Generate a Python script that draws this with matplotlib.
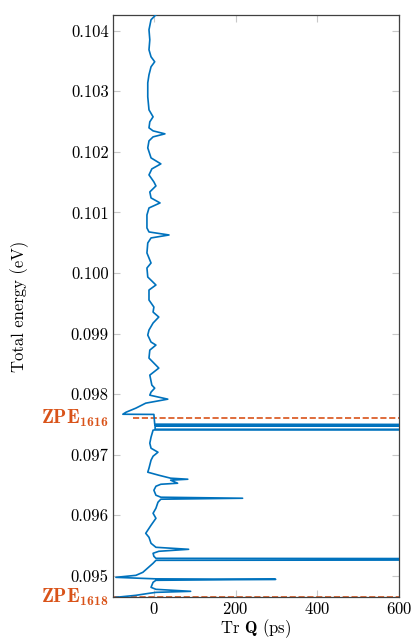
import numpy as np
import matplotlib
matplotlib.use('Agg')
import matplotlib.pyplot as plt
from matplotlib.ticker import FormatStrFormatter

plt.rcParams['font.family'] = 'cmr10'
plt.rcParams['mathtext.fontset'] = 'custom'
plt.rcParams['mathtext.rm'] = 'cmr10'
plt.rcParams['mathtext.it'] = 'cmmi10'
plt.rcParams['mathtext.bf'] = 'cmb10'
plt.rcParams['axes.unicode_minus'] = False
plt.rcParams['axes.formatter.use_mathtext'] = True

# energy (eV) and Tr Q (ps)
energy = [0.104264, 0.104182, 0.104017, 0.103851, 0.103686, 0.103570, 0.103488, 0.103405,
          0.103273, 0.103140, 0.102909, 0.102694, 0.102579, 0.102496, 0.102397, 0.102347,
          0.102298, 0.102248, 0.102182, 0.102066, 0.101901, 0.101802, 0.101719, 0.101620,
          0.101504, 0.101438, 0.101339, 0.101240, 0.101157, 0.101074, 0.100959, 0.100744,
          0.100678, 0.100628, 0.100579, 0.100496, 0.100331, 0.100165, 0.100083, 0.099934,
          0.099802, 0.099719, 0.099554, 0.099438, 0.099355, 0.099273, 0.099174, 0.099058,
          0.098975, 0.098860, 0.098810, 0.098727, 0.098595, 0.098430, 0.098314, 0.098149,
          0.098099, 0.098033, 0.097983, 0.097917, 0.097851, 0.097769, 0.097702, 0.097668,
          0.097665, 0.097504, 0.097488, 0.097484, 0.097480, 0.097475, 0.097420, 0.097415,
          0.097410, 0.097405, 0.097289, 0.097190, 0.097107, 0.097041, 0.096975, 0.096909,
          0.096777, 0.096711, 0.096661, 0.096612, 0.096595, 0.096579, 0.096529, 0.096512,
          0.096479, 0.096413, 0.096331, 0.096298, 0.096281, 0.096265, 0.096215, 0.096116,
          0.096033, 0.095950, 0.095835, 0.095702, 0.095636, 0.095537, 0.095471, 0.095438,
          0.095405, 0.095372, 0.095322, 0.095289, 0.095273, 0.095256, 0.095207, 0.095058,
          0.095008, 0.094975, 0.094959, 0.094950, 0.094942, 0.094926, 0.094893, 0.094810,
          0.094777, 0.094744, 0.094727, 0.094711, 0.094678, 0.094645]
trq = [5, -7, -12, -10, -12, -7, 2, -7,
       -12, -15, -15, -12, -2, -10, -12, -2,
       27, -2, -12, -15, -7, 17, -5, -12,
       0, 5, -10, -7, 15, -12, -17, -17,
       -12, 37, -7, -15, -17, -7, -17, -15,
       5, -12, -12, 0, -2, 12, -2, -12,
       -15, -7, 5, -10, -12, 12, -10, -5,
       2, -7, -10, 34, -20, -44, -68, -76,
       0, 2, 2500, 3, 2500, 3, 3, 2500,
       3, -2, -7, -10, -7, 10, -2, -7,
       -12, -15, 12, 41, 83, 41, 58, 17,
       5, 0, 5, 17, 217, 17, 10, 5,
       -2, 5, -7, -20, -12, -7, 5, 85,
       12, -2, 0, 5, 2500, 5, -2, -27,
       -44, -93, -32, 5, 298, 5, -2, -7,
       5, 90, 5, -12, -44, -93]

zpe1616 = 0.0976
zpe1618 = 0.09465
yticks = [0.095, 0.096, 0.097, 0.098, 0.099, 0.100, 0.101, 0.102, 0.103, 0.104]
xticks = [0, 200, 400, 600]

fig = plt.figure(figsize=(4.11, 6.39), dpi=100)
ax = fig.add_axes([0.275, 0.0657, 0.696, 0.9108])

ax.plot(trq, energy, color='#0072BD', linewidth=1.2, zorder=3)
ax.hlines(zpe1616, -50, 600, colors='#D95319', linestyles='--', linewidth=1.2, zorder=2)
ax.hlines(zpe1618, -100, 600, colors='#D95319', linestyles='--', linewidth=1.2, zorder=2)

ax.set_xlim(-100, 600)
ax.set_ylim(zpe1618, 0.10426)
ax.set_xticks(xticks)
ax.set_yticks(yticks)
ax.yaxis.set_major_formatter(FormatStrFormatter('%.3f'))
ax.tick_params(direction='in', color='#c8c8c8', length=5, width=0.8,
               top=True, right=True, labelsize=12, pad=3)
for s in ax.spines.values():
    s.set_color('#404040')
    s.set_linewidth(0.9)

ax.set_ylabel('Total energy (eV)', fontsize=12)
ax.yaxis.set_label_coords(-0.294, 0.5)
ax.set_xlabel(r'Tr $\mathbf{Q}$ (ps)', fontsize=12)
ax.xaxis.set_label_coords(0.5, -0.034)

tr = ax.get_yaxis_transform()
ax.text(-0.015, zpe1616, r'$\mathbf{ZPE}_{\mathbf{1616}}$', transform=tr, color='#D95319',
        fontsize=14, ha='right', va='center')
ax.text(-0.015, zpe1618, r'$\mathbf{ZPE}_{\mathbf{1618}}$', transform=tr, color='#D95319',
        fontsize=14, ha='right', va='center')

fig.savefig('out.png', dpi=100)
